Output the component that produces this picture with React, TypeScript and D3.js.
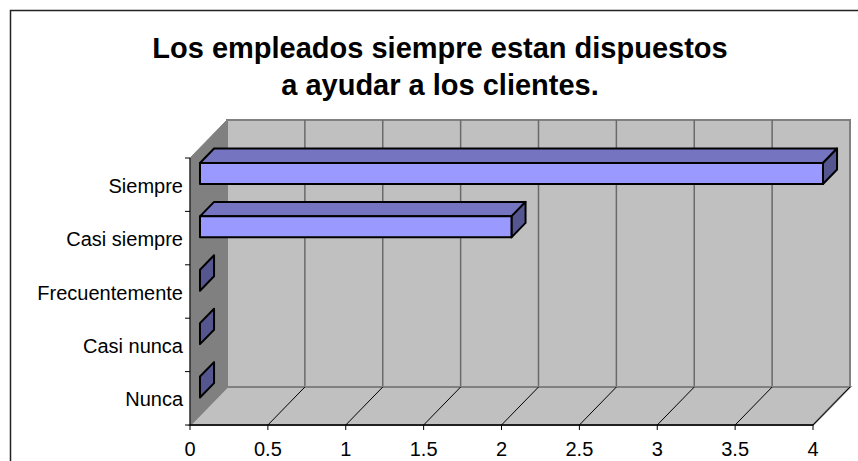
import React from "react";
import * as d3 from "d3";

const titleLines = ["Los empleados siempre estan dispuestos", "a ayudar a los clientes."];
const categories = ["Siempre", "Casi siempre", "Frecuentemente", "Casi nunca", "Nunca"];
const values = [4, 2, 0, 0, 0];
const xTicks = [0, 0.5, 1, 1.5, 2, 2.5, 3, 3.5, 4];
const xTickLabels = ["0", "0.5", "1", "1.5", "2", "2.5", "3", "3.5", "4"];

const W = 858;
const H = 461;
const FONT = "'Liberation Sans', Arial, sans-serif";

export default function App() {
  const x = d3.scaleLinear().domain([0, 4]).range([190, 813]);
  const y = d3.scaleBand().domain(categories).range([158, 425]);
  const DX = 37;
  const DY = -38;
  const t1 = 0.27;
  const t2 = 0.65;
  const barH = 21;
  const yTop = y.range()[0];
  const yBot = y.range()[1];
  const x0 = x(0);
  const x4 = x(4);

  const pt = (px: number, py: number, t: number) => [px + DX * t, py + DY * t];
  const poly = (pts: number[][]) => pts.map((p) => p.join(",")).join(" ");

  return (
    <svg width={W} height={H} style={{ position: "absolute", left: 0, top: 0 }}>
      <rect x={0} y={0} width={W} height={H} fill="#ffffff" />
      <rect x={10.5} y={10.5} width={900} height={500} fill="none" stroke="#222" strokeWidth={1.5} />
      {titleLines.map((t, i) => (
        <text key={i} x={440} y={58 + i * 37} textAnchor="middle" fontFamily={FONT} fontWeight="bold" fontSize={29} fill="#000">
          {t}
        </text>
      ))}
      {/* back wall */}
      <rect x={x0 + DX} y={yTop + DY} width={x4 - x0} height={yBot - yTop} fill="#c0c0c0" stroke="#808080" strokeWidth={2} />
      {xTicks.slice(1, -1).map((v) => (
        <line key={"g" + v} x1={x(v) + DX} x2={x(v) + DX} y1={yTop + DY} y2={yBot + DY} stroke="#6a6a6a" strokeWidth={1.5} />
      ))}
      {/* left wall */}
      <polygon points={poly([[x0, yTop], [x0 + DX, yTop + DY], [x0 + DX, yBot + DY], [x0, yBot]])} fill="#808080" stroke="#808080" strokeWidth={1} />
      {/* floor */}
      <polygon points={poly([[x0, yBot], [x4, yBot], [x4 + DX, yBot + DY], [x0 + DX, yBot + DY]])} fill="#c0c0c0" stroke="#808080" strokeWidth={2} />
      {xTicks.slice(1).map((v) => (
        <line key={"f" + v} x1={x(v)} y1={yBot} x2={x(v) + DX} y2={yBot + DY} stroke="#000" strokeWidth={1} />
      ))}
      {/* bars */}
      {categories.map((c, i) => {
        const v = values[i];
        const cy = (y(c) as number) + y.bandwidth() / 2;
        const yt = cy - barH / 2 - 1;
        const yb = yt + barH;
        const xl = x(0);
        const xr = x(v);
        const f1 = pt(xl, yt, t1);
        const f2 = pt(xr, yt, t1);
        const f3 = pt(xr, yb, t1);
        const f4 = pt(xl, yb, t1);
        const b1 = pt(xl, yt, t2);
        const b2 = pt(xr, yt, t2);
        const b3 = pt(xr, yb, t2);
        return (
          <g key={c} stroke="#000" strokeWidth={2} strokeLinejoin="round">
            {v > 0 && <polygon points={poly([f1, f2, b2, b1])} fill="#7474c0" />}
            <polygon points={poly([f2, b2, b3, f3])} fill="#555590" />
            {v > 0 && <polygon points={poly([f1, f2, f3, f4])} fill="#9999ff" />}
          </g>
        );
      })}
      {/* axes */}
      <line x1={x0} x2={x0} y1={yTop} y2={yBot} stroke="#000" strokeWidth={1} />
      {categories.map((c) => (
        <line key={"ct" + c} x1={x0 - 5} x2={x0} y1={y(c) as number} y2={y(c) as number} stroke="#000" strokeWidth={1} />
      ))}
      <line x1={x0 - 5} x2={x0} y1={yBot} y2={yBot} stroke="#000" strokeWidth={1} />
      <line x1={x0} x2={x4} y1={yBot} y2={yBot} stroke="#000" strokeWidth={1.5} />
      {xTicks.map((v) => (
        <line key={"xt" + v} x1={x(v)} x2={x(v)} y1={yBot} y2={yBot + 5} stroke="#000" strokeWidth={1} />
      ))}
      {categories.map((c) => (
        <text key={"cl" + c} x={183} y={(y(c) as number) + y.bandwidth() / 2 + 8} textAnchor="end" fontFamily={FONT} fontSize={20} fill="#000">
          {c}
        </text>
      ))}
      {xTicks.map((v, i) => (
        <text key={"xl" + v} x={x(v)} y={456} textAnchor="middle" fontFamily={FONT} fontSize={20} fill="#000">
          {xTickLabels[i]}
        </text>
      ))}
    </svg>
  );
}
